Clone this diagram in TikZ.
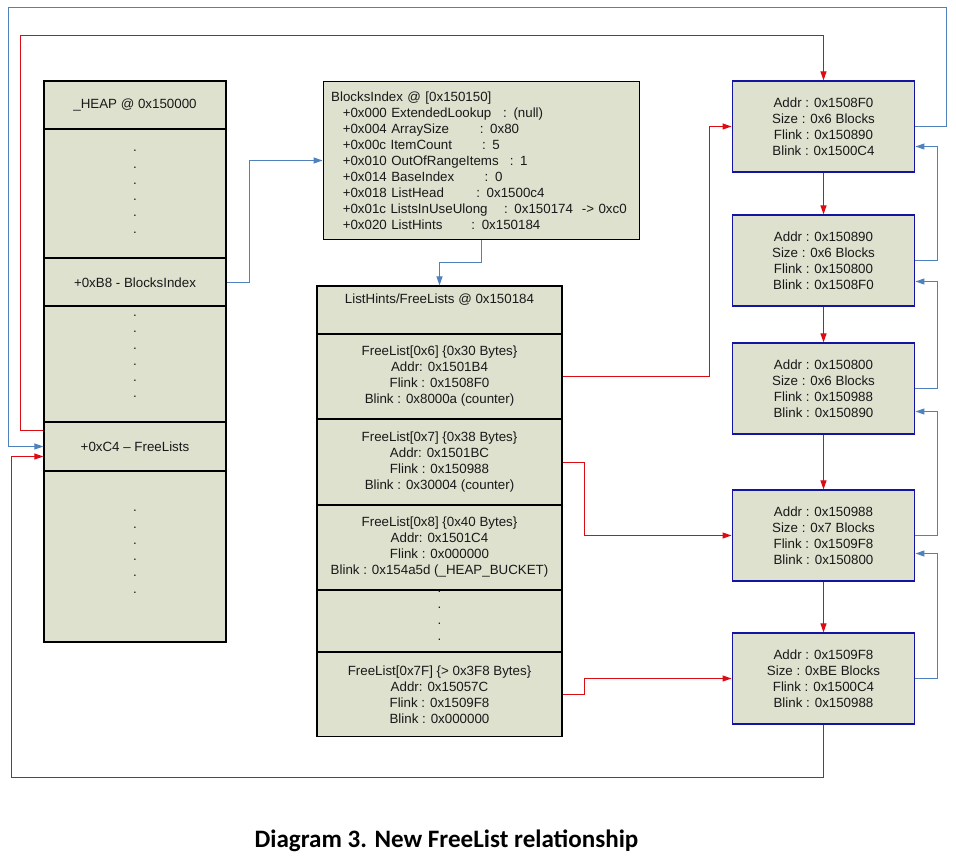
\documentclass[tikz,border=0pt]{standalone}
\usepackage{fontspec}
\setmainfont{Liberation Sans}
\newfontfamily\capfont{Carlito}
\usetikzlibrary{arrows.meta,calc}
\definecolor{cellfill}{RGB}{221,225,206}
\definecolor{linkblue}{RGB}{79,129,189}
\definecolor{linkred}{RGB}{220,12,20}
\definecolor{boxblue}{RGB}{20,20,160}
\begin{document}
\begin{tikzpicture}[x=0.75pt,y=-0.75pt,
  every node/.style={font=\fontsize{10}{12}\selectfont, text=black!90},
  heapcell/.style={draw=black, line width=0.9pt, fill=cellfill, inner sep=0pt, minimum width=136.5pt, align=center},
  midcell/.style={draw=black, line width=0.9pt, fill=cellfill, inner sep=0pt, minimum width=183.75pt, align=center},
  blkbox/.style={draw=boxblue, line width=0.9pt, fill=cellfill, inner sep=0pt, minimum width=137pt, minimum height=68.25pt, align=center},
  dotmark/.style={inner sep=0pt, font=\fontsize{10}{12}\selectfont},
  link/.style={line width=0.8pt, -{Triangle[length=6.75pt,width=4.5pt]}},
  bluelink/.style={link, draw=linkblue, fill=none},
  redlink/.style={link, draw=linkred, fill=none}]
\fill[white] (0,0) rectangle (956,856);
\useasboundingbox (0,0) rectangle (956,856);

% left column: _HEAP
\node[heapcell, minimum height=36pt] (h0) at (135,105) {\_HEAP @ 0x150000};
\node[heapcell, minimum height=96.75pt] (h1) at (135,193.5) {};
\node[heapcell, minimum height=36pt] (h2) at (135,282.5) {+0xB8 - BlocksIndex};
\node[heapcell, minimum height=87pt] (h3) at (135,364) {};
\node[heapcell, minimum height=36.75pt] (h4) at (135,446.5) {+0xC4 -- FreeLists};
\node[heapcell, minimum height=128.25pt] (h5) at (135,556.5) {};
\foreach \y [count=\i] in {151,168,184,200,216,233} \node[dotmark] (hda\i) at (135,\y) {.};
\foreach \y [count=\i] in {316,332,349,365,381,397} \node[dotmark] (hdb\i) at (135,\y) {.};
\foreach \y [count=\i] in {511,528,544,560,576,593} \node[dotmark] (hdc\i) at (135,\y) {.};

% BlocksIndex
\node[draw=black, line width=0.9pt, fill=cellfill, minimum width=237.5pt, minimum height=118pt,
      text width=225.5pt, inner xsep=6pt, inner ysep=0pt, align=left] (bi) at (481.5,160.5) {%
BlocksIndex @ [0x150150]\\
\hspace*{8.7pt}\makebox[120.3pt][l]{+0x000 ExtendedLookup\ }: (null)\\
\hspace*{8.7pt}\makebox[102.8pt][l]{+0x004 ArraySize\ }: 0x80\\
\hspace*{8.7pt}\makebox[104.5pt][l]{+0x00c ItemCount\ }: 5\\
\hspace*{8.7pt}\makebox[125.3pt][l]{+0x010 OutOfRangeItems\ }: 1\\
\hspace*{8.7pt}\makebox[106.5pt][l]{+0x014 BaseIndex\ }: 0\\
\hspace*{8.7pt}\makebox[100.2pt][l]{+0x018 ListHead\ }: 0x1500c4\\
\hspace*{8.7pt}\makebox[121pt][l]{+0x01c ListsInUseUlong\ }: 0x150174\ \ -> 0xc0\\
\hspace*{8.7pt}\makebox[96.5pt][l]{+0x020 ListHints\ }: 0x150184};

% ListHints / FreeLists
\node[midcell, minimum height=36pt] (lh0) at (439.5,310) {};
\node[anchor=base] (lh0t) at (439.5,303) {ListHints/FreeLists @ 0x150184};
\node[midcell, minimum height=63.75pt] (lh1) at (439.5,376.5) {FreeList[0x6] \{0x30 Bytes\}\\Addr: 0x1501B4\\Flink : 0x1508F0\\Blink : 0x8000a (counter)};
\node[midcell, minimum height=64.5pt] (lh2) at (439.5,462.5) {FreeList[0x7] \{0x38 Bytes\}\\Addr: 0x1501BC\\Flink : 0x150988\\Blink : 0x30004 (counter)};
\node[midcell, minimum height=63.75pt] (lh3) at (439.5,547.5) {FreeList[0x8] \{0x40 Bytes\}\\Addr: 0x1501C4\\Flink : 0x000000\\Blink : 0x154a5d (\_HEAP\_BUCKET)};
\node[midcell, minimum height=46.5pt] (lh4) at (439.5,621) {};
\node[midcell, minimum height=63pt] (lh5) at (439.5,694.5) {FreeList[0x7F] \{> 0x3F8 Bytes\}\\Addr: 0x15057C\\Flink : 0x1509F8\\Blink : 0x000000};
\foreach \y [count=\i] in {592,608,624,640} \node[dotmark] (ld\i) at (439.5,\y) {.};

% free blocks
\node[blkbox] (b1) at (823.5,126.5) {Addr : 0x1508F0\\Size : 0x6 Blocks\\Flink : 0x150890\\Blink : 0x1500C4};
\node[blkbox] (b2) at (823.5,260.5) {Addr : 0x150890\\Size : 0x6 Blocks\\Flink : 0x150800\\Blink : 0x1508F0};
\node[blkbox] (b3) at (823.5,388.5) {Addr : 0x150800\\Size : 0x6 Blocks\\Flink : 0x150988\\Blink : 0x150890};
\node[blkbox] (b4) at (823.5,535.5) {Addr : 0x150988\\Size : 0x7 Blocks\\Flink : 0x1509F8\\Blink : 0x150800};
\node[blkbox] (b5) at (823.5,678.5) {Addr : 0x1509F8\\Size : 0xBE Blocks\\Flink : 0x1500C4\\Blink : 0x150988};

% caption
\node[font=\capfont\bfseries\fontsize{18.8}{22}\selectfont, text=black] (cap) at (446.5,841) {Diagram 3. New FreeList relationship};

% bend columns
\coordinate (xbi) at (249.5,0);
\coordinate (xblk) at (937.5,0);
\coordinate (xfl) at (584.5,0);
\coordinate (xf6) at (709.5,0);

% blue connectors
\draw[bluelink] (h2.east) -- (h2.east -| xbi) |- (bi.west);
\draw[bluelink] (bi.south) -- ++(0,23) -| (lh0.north);
\coordinate (tr) at (946.5,7.5);
\coordinate (tl) at (8.5,7.5);
\draw[bluelink] (b1.east) -| (tr) -- (tl) |- (h4.west);
\draw[bluelink] (b2.east) -- (b2.east -| xblk) |- ($(b1.east)+(0,20)$);
\draw[bluelink] (b3.east) -- (b3.east -| xblk) |- ($(b2.east)+(0,21)$);
\draw[bluelink] (b4.east) -- (b4.east -| xblk) |- ($(b3.east)+(0,23)$);
\draw[bluelink] (b5.east) -- (b5.east -| xblk) |- ($(b4.east)+(0,18)$);

% red connectors
\coordinate (rtl) at (20.5,35.5);
\draw[redlink] ($(h4.north west)+(0,9.5)$) -| (rtl) -| (b1.north);
\coordinate (rbl) at (11.5,777.5);
\draw[redlink] (b5.south) |- (rbl) |- ($(h4.west)+(0,10)$);
\draw[redlink] (lh1.east) -- (lh1.east -| xf6) |- (b1.west);
\draw[redlink] (lh2.east) -- (lh2.east -| xfl) |- (b4.west);
\draw[redlink] (lh5.east) -- (lh5.east -| xfl) |- (b5.west);
\foreach \a/\b in {b1/b2,b2/b3,b3/b4,b4/b5} \draw[redlink] (\a.south) -- (\b.north);
\end{tikzpicture}
\end{document}
